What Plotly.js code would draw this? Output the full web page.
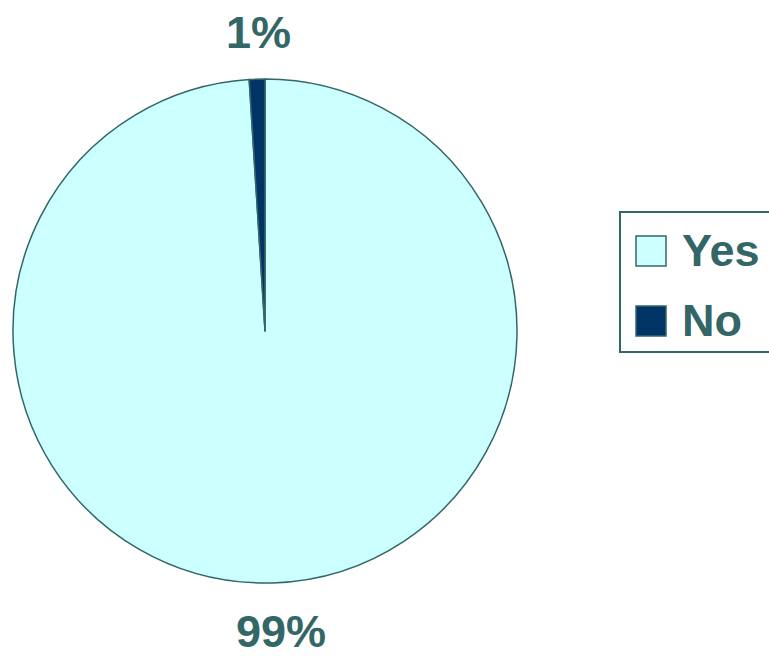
<!DOCTYPE html>
<html>
<head>
<meta charset="utf-8">
<script src="https://cdn.plot.ly/plotly-3.0.1.min.js"></script>
<style>html,body{margin:0;padding:0;background:#fff;}#chart{width:769px;height:656px;}</style>
</head>
<body>
<div id="chart"></div>
<script>
const categories = ["Yes", "No"];
const values = [99, 1];
const colors = ["#CCFFFF", "#003366"];

const W = 769, H = 656;
const textColor = "#336666";
const fontFamily = "Arial, 'Liberation Sans', sans-serif";
const total = values.reduce((a, b) => a + b, 0);

const trace = {
  type: "pie",
  labels: categories,
  values: values,
  sort: false,
  direction: "clockwise",
  rotation: 0,
  marker: { colors: colors, line: { color: "#336666", width: 1.5 } },
  textposition: "none",
  hoverinfo: "none",
  showlegend: false,
  domain: { x: [13 / W, 517 / W], y: [1 - 583 / H, 1 - 79 / H] }
};

const labelFont = { family: fontFamily, size: 45, color: textColor, weight: "bold" };

// custom legend built from categories/colors
const shapes = [{
  type: "rect", xref: "paper", yref: "paper",
  x0: 620 / W, x1: 1.05, y0: 1 - 352 / H, y1: 1 - 212 / H,
  line: { color: "#336666", width: 2 }, fillcolor: "rgba(0,0,0,0)"
}];
const annotations = [];
const rowY = [251, 321];
categories.forEach((c, i) => {
  const cy = rowY[i];
  shapes.push({
    type: "rect", xref: "paper", yref: "paper",
    x0: 636 / W, x1: 666 / W, y0: 1 - (cy + 15) / H, y1: 1 - (cy - 15) / H,
    line: { color: "#336666", width: 1.5 }, fillcolor: colors[i]
  });
  annotations.push({
    xref: "paper", yref: "paper", x: 680 / W, y: 1 - cy / H,
    xanchor: "left", yanchor: "middle", showarrow: false, text: c,
    font: labelFont
  });
});

// percentage labels (computed from values)
const labelPos = [[281, 631], [258, 32]];
values.forEach((v, i) => {
  annotations.push({
    xref: "paper", yref: "paper", x: labelPos[i][0] / W, y: 1 - labelPos[i][1] / H,
    xanchor: "center", yanchor: "middle", showarrow: false,
    text: Math.round(v / total * 100) + "%",
    font: labelFont
  });
});

const layout = {
  width: W, height: H,
  margin: { l: 0, r: 0, t: 0, b: 0 },
  paper_bgcolor: "#ffffff",
  showlegend: false,
  shapes: shapes,
  annotations: annotations
};

Plotly.newPlot("chart", [trace], layout, { displayModeBar: false, staticPlot: true });
</script>
</body>
</html>
